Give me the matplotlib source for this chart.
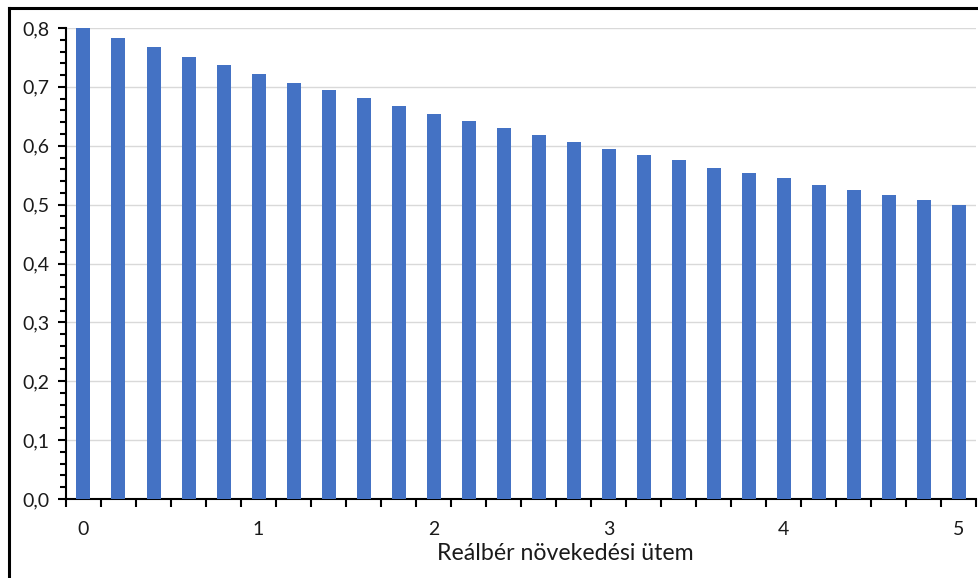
import matplotlib
matplotlib.use("Agg")
import matplotlib.pyplot as plt
from matplotlib.ticker import MultipleLocator, FuncFormatter
from matplotlib.lines import Line2D

growth = [0.0, 0.2, 0.4, 0.6, 0.8, 1.0, 1.2, 1.4, 1.6, 1.8, 2.0, 2.2, 2.4,
          2.6, 2.8, 3.0, 3.2, 3.4, 3.6, 3.8, 4.0, 4.2, 4.4, 4.6, 4.8, 5.0]
values = [0.800, 0.783, 0.767, 0.751, 0.737, 0.722, 0.707, 0.694, 0.681,
          0.667, 0.654, 0.642, 0.630, 0.619, 0.607, 0.595, 0.584, 0.575,
          0.563, 0.553, 0.545, 0.534, 0.525, 0.516, 0.508, 0.499]
x_label = "Reálbér növekedési ütem"

plt.rcParams['font.family'] = ['Lato', 'DejaVu Sans']

fig = plt.figure(figsize=(9.79, 5.78), dpi=100)
ax = fig.add_axes([66/979, 1-499/578, (976-66)/979, (499-28)/578])

pos = list(range(len(growth)))
ax.bar(pos, values, width=0.4, color='#4472C4', zorder=3)

ax.set_xlim(-0.5, len(growth)-0.5)
ax.set_ylim(0, 0.8)

ax.yaxis.set_major_locator(MultipleLocator(0.1))
ax.yaxis.set_minor_locator(MultipleLocator(0.02))
ax.yaxis.set_major_formatter(FuncFormatter(lambda v, p: f"{v:.1f}".replace('.', ',')))
ax.grid(axis='y', which='major', color='#D9D9D9', linewidth=1, zorder=0)

# x ticks: labels at integer growth values, tick marks at category boundaries
ax.set_xticks([i - 0.5 for i in range(len(growth)+1)])
ax.set_xticklabels([])
ax.set_xticks([i for i, g in enumerate(growth) if abs(g - round(g)) < 1e-9], minor=True)
ax.set_xticklabels([str(int(round(g))) for g in growth if abs(g - round(g)) < 1e-9], minor=True)
ax.tick_params(axis='x', which='major', length=6, width=1.5, direction='out', color='black')
ax.tick_params(axis='x', which='minor', length=0, pad=16, labelsize=14, labelcolor='#1a1a1a')
ax.tick_params(axis='y', which='major', length=6, width=1.5, direction='out', labelsize=14, labelcolor='#1a1a1a', pad=6)
ax.tick_params(axis='y', which='minor', length=4, width=1.5, direction='out')

for s in ['top', 'right']:
    ax.spines[s].set_visible(False)
for s in ['left', 'bottom']:
    ax.spines[s].set_linewidth(1.5)
    ax.spines[s].set_color('black')

ax.set_xlabel(x_label, fontsize=16.7, color='#1a1a1a')
ax.xaxis.set_label_coords((565-66)/910, -(553-499)/471, transform=ax.transAxes)
ax.xaxis.label.set_va('center')

# outer frame lines (left and top)
fig.add_artist(Line2D([9/979, 9/979], [0, 1-8/578], transform=fig.transFigure, color='black', linewidth=2.2))
fig.add_artist(Line2D([9/979, 1], [1-8/578, 1-8/578], transform=fig.transFigure, color='black', linewidth=2.2))

fig.savefig('out.png', dpi=100)
